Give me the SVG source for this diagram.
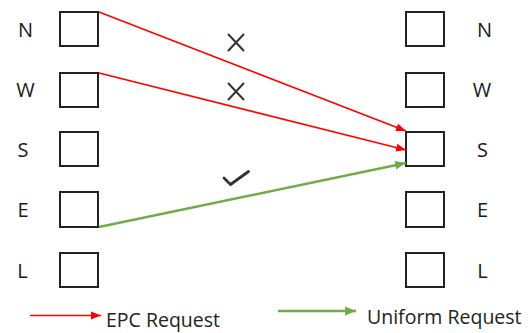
<svg xmlns="http://www.w3.org/2000/svg" width="528" height="333" viewBox="0 0 528 333">
  <style>
    .port { fill: #ffffff; stroke: #222222; stroke-width: 2; }
    .lbl { font-family: "Open Sans", "Liberation Sans", sans-serif; font-size: 20px; fill: #1a1a1a; text-anchor: middle; }
    .legend { font-family: "Open Sans", "Liberation Sans", sans-serif; font-size: 19.5px; fill: #222222; }
    .epc { fill: none; stroke: #ff0000; stroke-width: 1.5; }
    .uni { fill: none; stroke: #70ad47; stroke-width: 2.5; }
    .mark { fill: none; stroke: #333333; stroke-width: 2; stroke-linecap: round; stroke-linejoin: round; }
  </style>
  <defs>
    <marker id="arrowRed" markerUnits="userSpaceOnUse" markerWidth="10" markerHeight="10" viewBox="0 0 10 10" refX="10" refY="5" orient="auto">
      <path d="M0,1 L10,5 L0,9 Z" fill="#ff0000"/>
    </marker>
    <marker id="arrowGreen" markerUnits="userSpaceOnUse" markerWidth="11" markerHeight="11" viewBox="0 0 10 10" refX="10" refY="5" orient="auto">
      <path d="M0,1 L10,5 L0,9 Z" fill="#70ad47"/>
    </marker>
  </defs>
  <rect width="528" height="333" fill="#ffffff"/>

  <!-- input ports (left) -->
  <g id="in-N"><rect class="port" x="60" y="12" width="38" height="34"/><text class="lbl" x="25.5" y="37">N</text></g>
  <g id="in-W"><rect class="port" x="60" y="73" width="38" height="34"/><text class="lbl" x="25.5" y="97">W</text></g>
  <g id="in-S"><rect class="port" x="60" y="132" width="38" height="34"/><text class="lbl" x="23" y="156.5">S</text></g>
  <g id="in-E"><rect class="port" x="60" y="192" width="38" height="35"/><text class="lbl" x="23" y="217">E</text></g>
  <g id="in-L"><rect class="port" x="60" y="253" width="38" height="34"/><text class="lbl" x="22.5" y="277.5">L</text></g>

  <!-- output ports (right) -->
  <g id="out-N"><rect class="port" x="406" y="12" width="38" height="34"/><text class="lbl" x="484.5" y="37">N</text></g>
  <g id="out-W"><rect class="port" x="406" y="73" width="38" height="34"/><text class="lbl" x="482" y="97">W</text></g>
  <g id="out-S"><rect class="port" x="406" y="132" width="38" height="34"/><text class="lbl" x="482.5" y="156.5">S</text></g>
  <g id="out-E"><rect class="port" x="406" y="192" width="38" height="35"/><text class="lbl" x="482.5" y="217">E</text></g>
  <g id="out-L"><rect class="port" x="406" y="253" width="38" height="34"/><text class="lbl" x="482.5" y="277.5">L</text></g>

  <!-- requests -->
  <g id="connectors">
    <line class="epc" x1="99" y1="12" x2="406" y2="131" marker-end="url(#arrowRed)"/>
    <line class="epc" x1="99" y1="73" x2="406" y2="150" marker-end="url(#arrowRed)"/>
    <line class="uni" x1="99" y1="227" x2="406" y2="163" marker-end="url(#arrowGreen)"/>
  </g>

  <!-- grant marks -->
  <g id="marks">
    <path class="mark" d="M228.5,34.5 L243.5,50.5 M243.5,34.5 L228.5,50.5"/>
    <path class="mark" d="M228.5,83.5 L243.5,99.5 M243.5,83.5 L228.5,99.5"/>
    <path class="mark" style="stroke-width:2.8" d="M224,178 L230.5,184.5 L248.5,171.5"/>
  </g>

  <!-- legend -->
  <g id="legend">
    <line class="epc" x1="30" y1="315.5" x2="101" y2="315.5" marker-end="url(#arrowRed)"/>
    <text class="legend" x="106" y="327">EPC Request</text>
    <line class="uni" x1="278" y1="311" x2="356" y2="311" marker-end="url(#arrowGreen)"/>
    <text class="legend" x="367" y="324">Uniform Request</text>
  </g>
</svg>
